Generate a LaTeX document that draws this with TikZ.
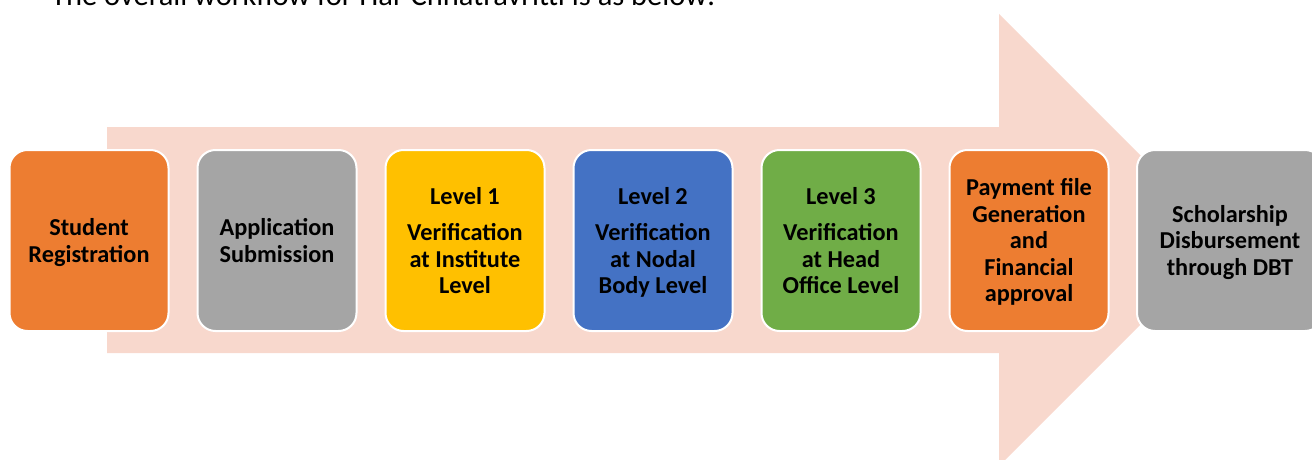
\documentclass[tikz,border=0pt]{standalone}
\usepackage{fontspec}
\setmainfont{Carlito}
% invisible rules that fix the extent of each label block
\newcommand\toprule{\rule{0pt}{24.5pt}}
\begin{document}
\begin{tikzpicture}[x=1pt,y=-1pt,
  stagebox/.style={rounded corners=18pt, draw=white, line width=2pt,
    minimum width=159pt, minimum height=181pt, inner sep=2pt,
    align=center, text=black,
    font=\fontsize{24.3}{26.5}\selectfont\bfseries},
  headtext/.style={font=\fontsize{30.5}{36}\selectfont, inner sep=0pt, anchor=base west}
]
\definecolor{flowpink}{HTML}{F8D8CD}
\definecolor{accorange}{HTML}{ED7D31}
\definecolor{accgray}{HTML}{A5A5A5}
\definecolor{accyellow}{HTML}{FFC000}
\definecolor{accblue}{HTML}{4472C4}
\definecolor{accgreen}{HTML}{70AD47}
\useasboundingbox (0,0) rectangle (1312,460);
\clip (0,0) rectangle (1312,460);

% introductory sentence above the chart
\node[headtext] (intro) at (51,5.5) {The overall workflow for Har Chhatravritti is as below:};

% large background arrow
\fill[flowpink] (107,127) -- (999,127) -- (999,14) -- (1225,240)
  -- (999,466) -- (999,353) -- (107,353) -- cycle;

% process stages
\node[stagebox, fill=accorange] (s1) at (89,240.5) {\toprule Student\\Registration\strut};
\node[stagebox, fill=accgray] (s2) at (277,240.5) {\toprule Application\\Submission\strut};
\node[stagebox, fill=accyellow] (s3) at (465,240.5) {\toprule Level 1\\[10pt]Verification\\at Institute\\Level\strut};
\node[stagebox, fill=accblue] (s4) at (653,240.5) {\toprule Level 2\\[10pt]Verification\\at Nodal\\Body Level\strut};
\node[stagebox, fill=accgreen] (s5) at (841,240.5) {\toprule Level 3\\[10pt]Verification\\at Head\\Office Level\strut};
\node[stagebox, fill=accorange] (s6) at (1029,240.5) {\toprule Payment file\\Generation\\and\\Financial\\approval\strut};
\node[stagebox, fill=accgray, minimum width=186pt] (s7) at (1230,240.5) {\toprule Scholarship\\Disbursement\\through DBT\strut};
\end{tikzpicture}
\end{document}
